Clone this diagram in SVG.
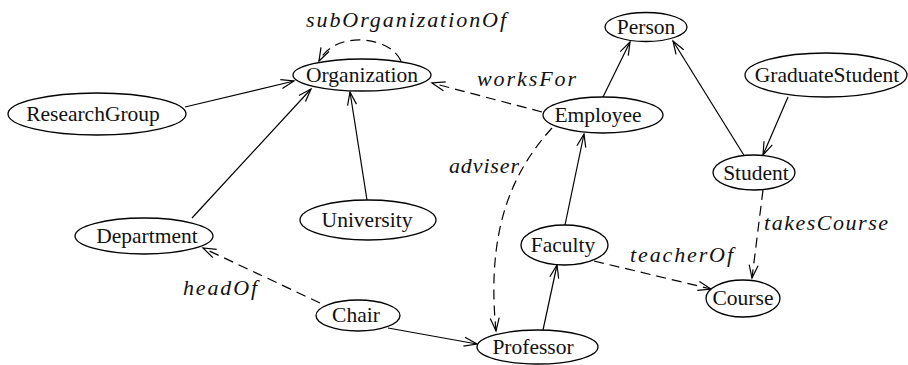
<svg xmlns="http://www.w3.org/2000/svg" width="908" height="365" viewBox="0 0 908 365">
  <style>
    .node ellipse { fill: #fff; stroke: #000; stroke-width: 1.3; }
    .node text { font-family: "Liberation Serif", "Times New Roman", serif; font-size: 21.5px; fill: #111; text-anchor: middle; }
    .edge { fill: none; stroke: #000; stroke-width: 1.2; marker-end: url(#arr); }
    .dash { stroke-dasharray: 10 6; }
    .lbl { font-family: "Liberation Serif", "Times New Roman", serif; font-style: italic; font-size: 22px; fill: #111; }
  </style>
  <defs>
    <marker id="arr" markerUnits="userSpaceOnUse" markerWidth="16" markerHeight="12" refX="0" refY="0" orient="auto" overflow="visible">
      <path d="M-13,-4.5 L0,0 L-13,4.5" fill="none" stroke="#000" stroke-width="1.2" stroke-dasharray="none"/>
    </marker>
  </defs>
  <rect width="908" height="365" fill="#fff"/>

  <!-- connectors -->
  <g id="connectors">
    <path class="edge dash" d="M401,61 C390,36 335,30 319,61"/>
    <path class="edge" d="M185,107 L294,81"/>
    <path class="edge" d="M192,218 L311,89"/>
    <path class="edge" d="M367,200 L350,92"/>
    <path class="edge dash" d="M542,112 L432,83"/>
    <path class="edge" d="M603,97 L630,42"/>
    <path class="edge" d="M745,157 L673,41"/>
    <path class="edge" d="M788,97 L763,155"/>
    <path class="edge" d="M565,225 L584,134"/>
    <path class="edge" d="M543,330 L557,265"/>
    <path class="edge" d="M388,328 L477,344"/>
    <path class="edge dash" d="M320,303 L203,248"/>
    <path class="edge dash" d="M552,128 C512,172 486,230 496,331"/>
    <path class="edge dash" d="M594,261 L711,289"/>
    <path class="edge dash" d="M763,190 L752,278"/>

    <text class="lbl" x="306" y="27" textLength="200" lengthAdjust="spacing">subOrganizationOf</text>
    <text class="lbl" x="477" y="86" textLength="99" lengthAdjust="spacing">worksFor</text>
    <text class="lbl" x="449" y="173" textLength="70" lengthAdjust="spacing">adviser</text>
    <text class="lbl" x="183" y="295" textLength="74" lengthAdjust="spacing">headOf</text>
    <text class="lbl" x="630" y="262" textLength="103" lengthAdjust="spacing">teacherOf</text>
    <text class="lbl" x="764" y="230" textLength="124" lengthAdjust="spacing">takesCourse</text>
  </g>

  <!-- nodes -->
  <g id="organization" class="node"><ellipse cx="362" cy="75" rx="69" ry="16"/><text x="362" y="82">Organization</text></g>
  <g id="research-group" class="node"><ellipse cx="97" cy="114" rx="89" ry="21"/><text x="93" y="121">ResearchGroup</text></g>
  <g id="department" class="node"><ellipse cx="144" cy="236" rx="69" ry="18"/><text x="147" y="243">Department</text></g>
  <g id="university" class="node"><ellipse cx="368" cy="220" rx="68" ry="20"/><text x="367" y="227">University</text></g>
  <g id="person" class="node"><ellipse cx="646" cy="27" rx="41" ry="14.5"/><text x="646" y="34">Person</text></g>
  <g id="employee" class="node"><ellipse cx="603" cy="115" rx="60" ry="18"/><text x="598" y="122">Employee</text></g>
  <g id="graduate-student" class="node"><ellipse cx="826" cy="75" rx="81" ry="22"/><text x="827" y="82">GraduateStudent</text></g>
  <g id="student" class="node"><ellipse cx="754" cy="172.5" rx="41" ry="17.5"/><text x="756" y="180">Student</text></g>
  <g id="faculty" class="node"><ellipse cx="564.5" cy="245" rx="43.5" ry="20"/><text x="563" y="252">Faculty</text></g>
  <g id="course" class="node"><ellipse cx="743" cy="298.5" rx="37" ry="18.5"/><text x="743" y="305">Course</text></g>
  <g id="chair" class="node"><ellipse cx="358" cy="315.5" rx="42" ry="15.5"/><text x="356" y="322">Chair</text></g>
  <g id="professor" class="node"><ellipse cx="537.5" cy="347" rx="60.5" ry="17"/><text x="533" y="354">Professor</text></g>
</svg>
